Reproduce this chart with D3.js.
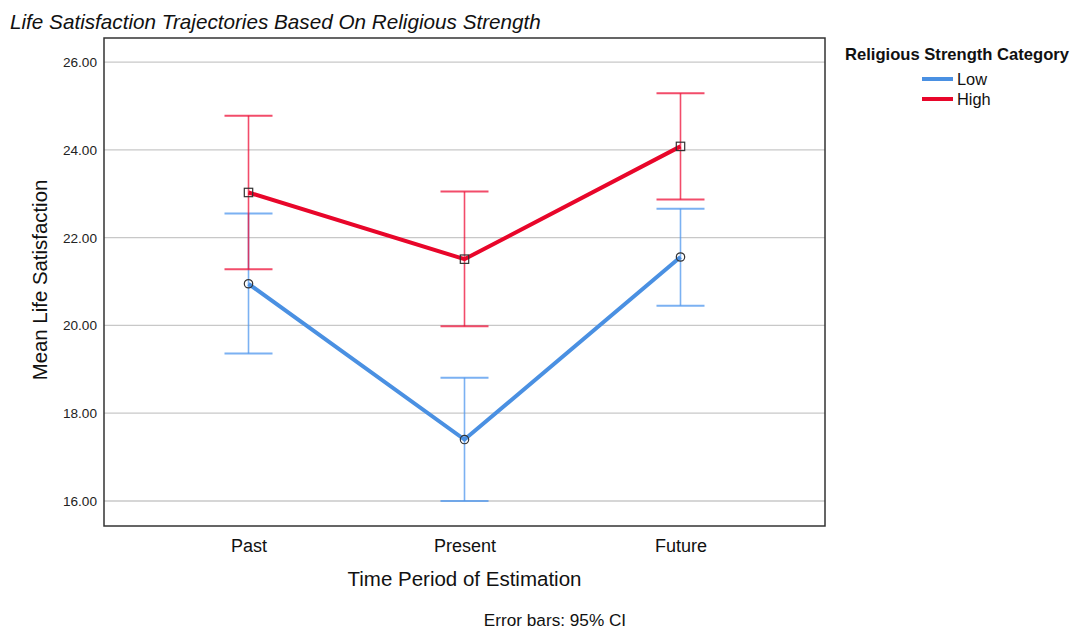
<!DOCTYPE html>
<meta charset="utf-8">
<body style="margin:0;background:#fff">
<script src="https://d3js.org/d3.v7.min.js"></script>
<script>

// data
var periods = ["Past", "Present", "Future"];
var groups = ["Low", "High"];
var lowMean = [20.95, 17.40, 21.56];
var lowLo   = [19.36, 16.00, 20.45];
var lowHi   = [22.55, 18.81, 22.66];
var highMean = [23.03, 21.51, 24.08];
var highLo   = [21.28, 19.98, 22.87];
var highHi   = [24.78, 23.05, 25.29];
var yTicks = [16, 18, 20, 22, 24, 26];

var width = 1074, height = 632;
var plot = {left: 104, right: 825, top: 38, bottom: 526};

var svg = d3.select("body").append("svg")
    .attr("width", width)
    .attr("height", height)
    .style("font-family", "'Liberation Sans', Arial, sans-serif");

var x = d3.scalePoint().domain(periods).range([plot.left, plot.right]).padding(0.669);
var y = d3.scaleLinear().domain([15.43, 26.55]).range([plot.bottom, plot.top]);

var series = [
  {name: groups[0], mean: lowMean, lo: lowLo, hi: lowHi, color: "#4a90e2", bar: "#4f97ee", marker: "circle"},
  {name: groups[1], mean: highMean, lo: highLo, hi: highHi, color: "#e8062a", bar: "#ee1038", marker: "square"}
];

// gridlines
svg.append("g").selectAll("line")
  .data(yTicks)
  .enter().append("line")
    .attr("x1", plot.left).attr("x2", plot.right)
    .attr("y1", d => y(d)).attr("y2", d => y(d))
    .attr("stroke", "#c8c8c8")
    .attr("stroke-width", 1.3);

// y axis labels
var yAxis = d3.axisLeft(y).tickValues(yTicks).tickFormat(d3.format(".2f")).tickSize(0).tickPadding(7);
var gy = svg.append("g").attr("transform", "translate(" + plot.left + ",0)").call(yAxis);
gy.select(".domain").remove();
gy.selectAll("text").style("font-size", "13.6px").attr("fill", "#222").style("font-family", "inherit");

// x axis labels
var xAxis = d3.axisBottom(x).tickSize(0).tickPadding(0);
var gx = svg.append("g").attr("transform", "translate(0," + plot.bottom + ")").call(xAxis);
gx.select(".domain").remove();
gx.selectAll("text")
  .attr("y", 26).attr("dy", null)
  .style("font-size", "18px").attr("fill", "#111").style("font-family", "inherit");

// error bars
var cap = 24;
series.forEach(function(s) {
  var g = svg.append("g").attr("stroke-opacity", 0.75);
  var idx = d3.range(periods.length);
  g.selectAll(".v").data(idx).enter().append("line")
    .attr("x1", i => x(periods[i])).attr("x2", i => x(periods[i]))
    .attr("y1", i => y(s.lo[i])).attr("y2", i => y(s.hi[i]))
    .attr("stroke", s.bar).attr("stroke-width", 1.6);
  ["lo", "hi"].forEach(function(k) {
    g.selectAll(".c" + k).data(idx).enter().append("line")
      .attr("x1", i => x(periods[i]) - cap).attr("x2", i => x(periods[i]) + cap)
      .attr("y1", i => y(s[k][i])).attr("y2", i => y(s[k][i]))
      .attr("stroke", s.bar).attr("stroke-width", 2);
  });
});

// mean lines
var line = d3.line().x((d, i) => x(periods[i])).y(d => y(d));
series.forEach(function(s) {
  svg.append("path")
    .datum(s.mean)
    .attr("d", line)
    .attr("fill", "none")
    .attr("stroke", s.color)
    .attr("stroke-width", 4);
});

// markers
series.forEach(function(s) {
  var g = svg.append("g");
  if (s.marker == "circle") {
    g.selectAll("circle").data(s.mean).enter().append("circle")
      .attr("cx", (d, i) => x(periods[i])).attr("cy", d => y(d))
      .attr("r", 4.2)
      .attr("fill", "none").attr("stroke", "#333").attr("stroke-width", 1.2);
  } else {
    g.selectAll("rect").data(s.mean).enter().append("rect")
      .attr("x", (d, i) => x(periods[i]) - 4.2).attr("y", d => y(d) - 4.2)
      .attr("width", 8.4).attr("height", 8.4)
      .attr("fill", "none").attr("stroke", "#333").attr("stroke-width", 1.2);
  }
});

// frame
svg.append("rect")
  .attr("x", plot.left).attr("y", plot.top)
  .attr("width", plot.right - plot.left).attr("height", plot.bottom - plot.top)
  .attr("fill", "none").attr("stroke", "#333").attr("stroke-width", 1.5);

// texts
svg.append("text")
  .attr("x", 10).attr("y", 29)
  .style("font-size", "20.7px").style("font-style", "italic").attr("fill", "#111")
  .text("Life Satisfaction Trajectories Based On Religious Strength");

svg.append("text")
  .attr("transform", "translate(47,280) rotate(-90)")
  .attr("text-anchor", "middle")
  .style("font-size", "20.4px").attr("fill", "#111")
  .text("Mean Life Satisfaction");

svg.append("text")
  .attr("x", x("Present")).attr("y", 586)
  .attr("text-anchor", "middle")
  .style("font-size", "20.5px").attr("fill", "#111")
  .text("Time Period of Estimation");

svg.append("text")
  .attr("x", 555).attr("y", 626)
  .attr("text-anchor", "middle")
  .style("font-size", "17.2px").attr("fill", "#111")
  .text("Error bars: 95% CI");

// legend
var legend = svg.append("g");
legend.append("text")
  .attr("x", 845).attr("y", 60)
  .style("font-size", "16.6px").style("font-weight", "bold").attr("fill", "#111")
  .text("Religious Strength Category");
legend.selectAll("line").data(series).enter().append("line")
  .attr("x1", 922).attr("x2", 953)
  .attr("y1", (d, i) => 79 + i * 20).attr("y2", (d, i) => 79 + i * 20)
  .attr("stroke", d => d.color).attr("stroke-width", 4);
legend.selectAll(".lab").data(series).enter().append("text")
  .attr("x", 957).attr("y", (d, i) => 85 + i * 20)
  .style("font-size", "16.4px").attr("fill", "#111")
  .text(d => d.name);

</script>
</body>
